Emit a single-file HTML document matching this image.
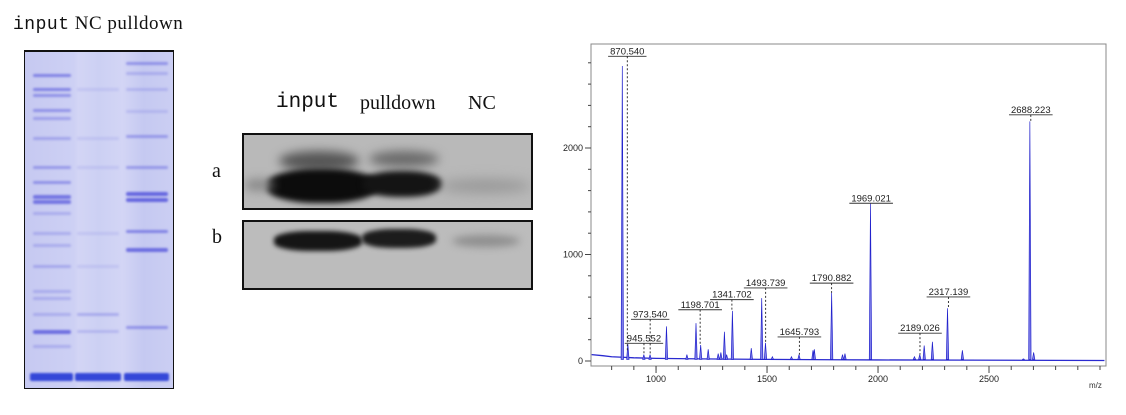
<!DOCTYPE html>
<html><head><meta charset="utf-8">
<style>
body{margin:0;width:1126px;height:415px;background:#fff;position:relative;overflow:hidden;font-family:"Liberation Serif",serif}
.abs{position:absolute}
.band{position:absolute;border-radius:2px;filter:blur(1.1px)}
.lbl{position:absolute;font-size:20px;color:#111;white-space:nowrap}
</style></head><body>
<div class="lbl" style="left:13px;top:13px;font-size:19px;letter-spacing:0.5px"><span style="font-family:'Liberation Mono',monospace;font-size:18px">input</span> NC pulldown</div>
<div id="gel" class="abs" style="left:24px;top:50px;width:148px;height:336px;background:linear-gradient(90deg,#c6c9f1,#cdd0f4 33%,#d3d5f5 36%,#ccd0f3 50%,#d3d5f5 66%,#c5c9f1 80%,#cbcef3);border:1.5px solid #111;border-top-width:2.5px"></div>

<div class="lbl" style="left:276px;top:90px"><span style="font-family:'Liberation Mono',monospace;font-size:21px">input</span></div>
<div class="lbl" style="left:360px;top:92px">pulldown</div>
<div class="lbl" style="left:468px;top:92px">NC</div>
<div class="lbl" style="left:212px;top:160px">a</div>
<div class="lbl" style="left:212px;top:226px">b</div>
<div class="abs" style="left:242px;top:133px;width:287px;height:73px;border:2px solid #111;background:#b9b9b9;overflow:hidden">
 <div class="abs" style="left:35px;top:16px;width:80px;height:20px;background:#555;border-radius:50%;filter:blur(5px)"></div>
 <div class="abs" style="left:125px;top:16px;width:70px;height:16px;background:#6a6a6a;border-radius:50%;filter:blur(5px)"></div>
 <div class="abs" style="left:22px;top:34px;width:112px;height:34px;background:#0c0c0c;border-radius:45%;filter:blur(3px)"></div>
 <div class="abs" style="left:118px;top:36px;width:80px;height:26px;background:#141414;border-radius:45%;filter:blur(3px)"></div>
 <div class="abs" style="left:0;top:44px;width:30px;height:12px;background:#888;border-radius:50%;filter:blur(5px)"></div>
 <div class="abs" style="left:195px;top:44px;width:92px;height:14px;background:#999;border-radius:50%;filter:blur(6px)"></div>
</div>
<div class="abs" style="left:242px;top:220px;width:287px;height:66px;border:2px solid #111;background:#bcbcbc;overflow:hidden">
 <div class="abs" style="left:30px;top:9px;width:88px;height:20px;background:#151515;border-radius:40%;filter:blur(2.5px)"></div>
 <div class="abs" style="left:118px;top:7px;width:74px;height:19px;background:#1c1c1c;border-radius:40%;filter:blur(2.5px)"></div>
 <div class="abs" style="left:208px;top:13px;width:68px;height:12px;background:#8e8e8e;border-radius:50%;filter:blur(4px)"></div>
</div>

<svg class="abs" style="left:0;top:0" width="1126" height="415" id="ms"></svg>

<script>
// ---- gel bands ----
const lane1Bands=[74,88,94,109,117,137,166,181,195,200,212,232,244,265,290,297,313,330,345];
const lane1Strength=[0.5,0.5,0.4,0.4,0.3,0.28,0.35,0.4,0.6,0.6,0.22,0.22,0.22,0.25,0.22,0.22,0.22,0.65,0.22];
const lane2Bands=[88,137,166,232,265,313,330];
const lane2Strength=[0.1,0.1,0.1,0.1,0.1,0.25,0.18];
const lane3Bands=[62,72,88,110,135,166,192,198,230,248,326];
const lane3Strength=[0.4,0.22,0.18,0.15,0.35,0.35,0.7,0.7,0.5,0.65,0.4];
const gel=document.getElementById('gel');
function addBands(ys,st,x,w){
 ys.forEach((y,i)=>{
  const d=document.createElement('div');
  
  
  d.className='band';
  d.style.left=x+'px';d.style.width=w+'px';
  d.style.top=(y-51-1)+'px';d.style.height=(st[i]>0.55?4:2.5)+'px';
  d.style.background='rgba(60,60,215,'+st[i]+')';
  gel.appendChild(d);
 });
}
addBands(lane1Bands,lane1Strength,8,38);
addBands(lane2Bands,lane2Strength,52,42);
addBands(lane3Bands,lane3Strength,101,42);
[[5,43],[50,46],[99,45]].forEach(([x,w])=>{
 const d=document.createElement('div');
 
 
 d.className='band';
 d.style.left=x+'px';d.style.width=w+'px';d.style.top='321px';d.style.height='8px';
 d.style.background='#3447d8';gel.appendChild(d);
});

// ---- mass spectrum data ----
const peakMz=[848,873,945,973,1047,1139,1180,1201,1235,1280,1292,1308,1318,1344,1429,1476,1493,1524,1610,1644,1707,1713,1791,1840,1851,1966,2164,2188,2208,2245,2313,2380,2655,2684,2701];
const peakInt=[2770,160,60,60,325,60,355,150,110,70,80,275,60,470,120,590,170,40,40,60,100,110,640,60,70,1480,40,60,145,180,495,100,20,2250,80];
const baseMz=[710,760,800,850,900,1000,1200,1500,1800,2000,2400,2800,3020];
const baseInt=[60,50,40,35,30,25,20,15,12,10,8,6,5];
const labelText=['870.540','945.552','973.540','1198.701','1341.702','1493.739','1645.793','1790.882','1969.021','2189.026','2317.139','2688.223'];
const labelMz=[870.54,945.552,973.54,1198.701,1341.702,1493.739,1645.793,1790.882,1969.021,2189.026,2317.139,2688.223];
const labelLevel=[2880,185,410,500,595,705,245,750,1500,280,620,2330];
const labelPeak=[100,60,60,150,470,170,60,640,1480,60,495,2250];
const xTicks=[1000,1500,2000,2500];
const yTicks=[0,1000,2000];

const X0=591,X1=1106,Y0=44,Y1=366;
const mzMin=707,mzMax=3027;
const xs=m=>X0+(m-mzMin)/(mzMax-mzMin)*(X1-X0);
const ys=v=>361-v*0.1065;
const svg=document.getElementById('ms');
const NS='http://www.w3.org/2000/svg';
function mk(t,a,p){const e=document.createElementNS(NS,t);for(const k in a)e.setAttribute(k,a[k]);(p||svg).appendChild(e);return e;}

const frame=mk('rect',{x:X0,y:Y0,width:X1-X0,height:Y1-Y0,fill:'none',stroke:'#888','stroke-width':1});


for(let v=0;v<=2800;v+=200){mk('line',{x1:X0-3,x2:X0,y1:ys(v),y2:ys(v),stroke:'#444'});}
yTicks.forEach(v=>{
 mk('line',{x1:X0-6,x2:X0,y1:ys(v),y2:ys(v),stroke:'#444'});
 const t=mk('text',{x:X0-8,y:ys(v)+3,'text-anchor':'end','font-size':9,'font-family':'Liberation Sans, sans-serif',fill:'#222'});
 t.textContent=v;
 
 
});
for(let m=800;m<=3000;m+=100){mk('line',{x1:xs(m),x2:xs(m),y1:Y1,y2:Y1+4,stroke:'#444'});}
xTicks.forEach(m=>{
 mk('line',{x1:xs(m),x2:xs(m),y1:Y1,y2:Y1+7,stroke:'#444'});
 const t=mk('text',{x:xs(m),y:Y1+16,'text-anchor':'middle','font-size':9,'font-family':'Liberation Sans, sans-serif',fill:'#222'});
 t.textContent=m;
 
 
});
const mz=mk('text',{x:1089,y:388,'font-size':8,'font-family':'Liberation Sans, sans-serif',fill:'#333'});
mz.textContent='m/z';



const bl=mk('polyline',{points:baseMz.map((m,i)=>xs(m)+','+ys(baseInt[i])).join(' '),fill:'none',stroke:'#2a2ad0','stroke-width':1.3});


peakMz.forEach((m,i)=>{
 const x=xs(m),b=ys(15),t=ys(peakInt[i]);
 const p=mk('polygon',{points:(x-1.2)+','+b+' '+x+','+t+' '+(x+1.2)+','+b,fill:'#8080e8',stroke:'#2222cc','stroke-width':0.7});
 
 
});
labelText.forEach((s,i)=>{
 const x=xs(labelMz[i]),y=ys(labelLevel[i]);
 const t=mk('text',{x:x,y:y,'text-anchor':'middle','font-size':9.5,'font-family':'Liberation Sans, sans-serif',fill:'#222'});
 t.textContent=s;
 
 
 const w=s.length*5.2;
 mk('line',{x1:x-w/2-1,x2:x+w/2+1,y1:y+2,y2:y+2,stroke:'#333','stroke-width':0.9});
 const d=mk('line',{x1:x,x2:x,y1:y+2,y2:ys(labelPeak[i]),stroke:'#222','stroke-width':0.9,'stroke-dasharray':'2,2'});
 
 
});
</script>
</body></html>
